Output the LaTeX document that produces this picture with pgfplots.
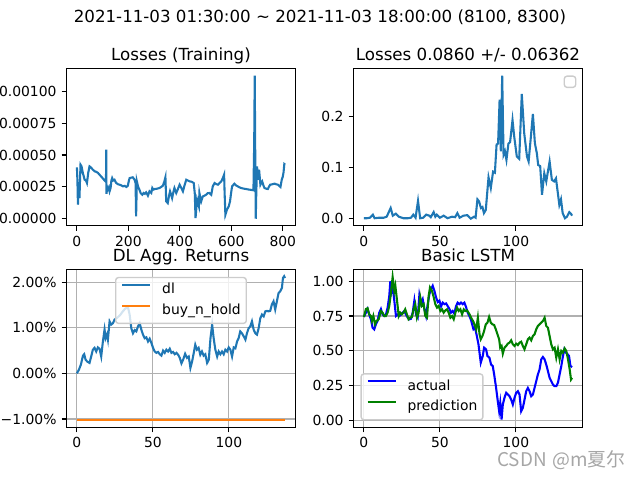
\documentclass[border=0pt]{standalone}
\usepackage{fontspec}
\setmainfont{DejaVu Sans}
\newfontfamily\cjk{Noto Sans CJK SC}
\usepackage{pgfplots}
\pgfplotsset{compat=1.18}
\definecolor{tabblue}{HTML}{1F77B4}
\definecolor{taborange}{HTML}{FF7F0E}
\definecolor{mplgreen}{HTML}{008000}
\definecolor{mplblue}{HTML}{0000FF}
\definecolor{gridgray}{HTML}{B0B0B0}
\definecolor{leggray}{HTML}{CCCCCC}
\definecolor{wm}{HTML}{A6A6A6}
\pgfplotsset{
  mpl/.style={
    scale only axis, width=164.88bp, height=113.4bp,
    axis line style={black, line width=0.8bp},
    tick align=outside, tick pos=left,
    major tick length=3.5bp,
    every tick/.style={black, line width=0.8bp},
    tick label style={font=\fontsize{10bp}{12bp}\selectfont},
    xticklabel style={inner sep=0pt, anchor=north, yshift=-3.5bp},
    yticklabel style={inner sep=0pt, anchor=east, xshift=-3.5bp},
    title style={font=\fontsize{12bp}{14bp}\selectfont, at={(0.5,1)}, anchor=base, inner sep=0pt},
    every axis plot/.append style={line width=1.5bp},
    legend image code/.code={\draw[#1, line width=1.5bp, draw opacity=1, opacity=1] (0bp,3.6bp) -- (20bp,3.6bp);},
    legend cell align=left,
    legend style={draw=leggray, line width=1bp, rounded corners=2bp, fill=white,
      fill opacity=0.8, text opacity=1,
      inner xsep=4bp, inner ysep=4bp, row sep=5bp, column sep=8bp,
      font=\fontsize{10bp}{12bp}\selectfont,
      nodes={inner sep=0pt, text height=7.6bp, text depth=2.4bp}},
  },
  mplgrid/.style={grid=major, grid style={gridgray, line width=0.8bp}},
}
\begin{document}
\begin{tikzpicture}
\useasboundingbox (0,0) rectangle (460.8bp,345.6bp);
\node[anchor=base, inner sep=0pt] at (230.4bp,329.4bp) {\fontsize{12bp}{14bp}\selectfont 2021-11-03 01:30:00 \textasciitilde{} 2021-11-03 18:00:00 (8100, 8300)};

% Top left
\begin{axis}[mpl, at={(47.88bp,182.95bp)}, anchor=south west,
  title={Losses (Training)},
  xmin=-40.45, xmax=849.45, ymin=-0.0562, ymax=1.1792,
  xtick={0,200,400,600,800}, xticklabels={0,200,400,600,800},
  ytick={0,0.25,0.5,0.75,1.0}, yticklabels={0.00000,0.00025,0.00050,0.00075,0.00100}]
\addplot[tabblue] coordinates {(0,0.403)(2,0.300)(4,0.110)(6.5,0.228)(8,0.190)(10,0.162)(12,0.300)(14,0.424)(18,0.411)(21,0.380)(23,0.359)(27,0.330)(30,0.306)(35,0.300)(39,0.280)(44,0.360)(49,0.411)(53,0.405)(56,0.398)(62,0.385)(69,0.372)(75,0.368)(82,0.359)(88,0.345)(94,0.332)(100,0.318)(105,0.306)(111,0.293)(113,0.300)(114,0.542)(115,0.196)(117,0.250)(120,0.228)(124,0.245)(127,0.215)(131,0.241)(134,0.300)(137,0.319)(141,0.300)(146,0.306)(150,0.290)(153,0.280)(160,0.270)(166,0.267)(172,0.262)(179,0.254)(186,0.258)(192,0.249)(198,0.259)(202,0.300)(205,0.319)(211,0.322)(217,0.325)(224,0.306)(228,0.280)(230,0.018)(233,0.293)(238,0.250)(243,0.228)(248,0.200)(254,0.188)(259,0.202)(264,0.195)(269,0.207)(276,0.181)(282,0.215)(289,0.202)(293,0.241)(297,0.228)(302,0.233)(310,0.235)(321,0.241)(328,0.250)(334,0.259)(340,0.293)(344,0.325)(347,0.136)(353,0.123)(358,0.180)(362,0.215)(366,0.190)(370,0.162)(375,0.210)(379,0.241)(386,0.202)(392,0.230)(399,0.267)(406,0.240)(412,0.215)(418,0.260)(425,0.306)(431,0.300)(438,0.293)(446,0.290)(454,0.280)(458,0.200)(461,0.005)(464,0.080)(467,0.149)(474,0.097)(476,0.202)(480,0.160)(483,0.136)(489,0.175)(495,0.180)(502,0.188)(508,0.200)(515,0.202)(522,0.188)(528,0.254)(535,0.280)(541,0.272)(548,0.267)(554,0.280)(561,0.293)(567,0.319)(572,0.346)(574,0.200)(577,0.031)(580,0.050)(583,0.071)(590,0.097)(595,0.136)(599,0.200)(603,0.254)(612,0.275)(618,0.262)(625,0.254)(631,0.247)(638,0.241)(648,0.236)(658,0.233)(664,0.230)(671,0.228)(678,0.226)(686,0.223)(689,0.600)(691,1.123)(693,0.500)(695,0.0)(697,0.200)(700,0.411)(704,0.306)(708,0.385)(713,0.267)(716,0.280)(720,0.293)(725,0.260)(729,0.241)(735,0.236)(742,0.233)(746,0.250)(751,0.267)(759,0.270)(768,0.275)(775,0.270)(781,0.267)(786,0.258)(791,0.249)(796,0.306)(800,0.330)(803,0.364)(806,0.429)(809,0.424)};
\end{axis}

% Top right
\begin{axis}[mpl, at={(254.52bp,182.95bp)}, anchor=south west,
  title={Losses 0.0860 +/- 0.06362},
  xmin=-6.85, xmax=143.85, ymin=-0.014, ymax=0.294,
  xtick={0,50,100}, xticklabels={0,50,100},
  ytick={0,0.1,0.2}, yticklabels={0.0,0.1,0.2}]
\addplot[tabblue] coordinates {(0,0.001)(2,0.001)(4,0.002)(5.9,0.008)(7,0.001)(10,0.002)(13,0.002)(15,0.004)(17.6,0.021)(19,0.006)(21,0.010)(23,0.004)(26,0.001)(29,0.001)(31,0.002)(32.5,0.008)(34,0.002)(35.6,0.035)(37,0.001)(39,0.002)(41,0.008)(43,0.006)(44,0.003)(45.9,0.013)(47,0.004)(48,0.008)(50,0.002)(52.5,0.006)(55,0.001)(58,0.004)(60,0.003)(61.5,0.011)(63,0.002)(65.5,0.006)(68,0.007)(70.3,0.000)(72.5,0.004)(73.5,0.002)(74.7,0.038)(75.8,0.034)(77,0.021)(78,0.023)(79,0.011)(80.2,0.017)(82,0.081)(83.5,0.060)(85,0.092)(86.2,0.090)(87.3,0.145)(88.3,0.147)(89.3,0.233)(90.1,0.132)(91,0.280)(91.9,0.125)(92.8,0.132)(93.8,0.115)(95.1,0.147)(96.2,0.150)(97.8,0.193)(98.9,0.161)(100.6,0.122)(102.2,0.117)(103.9,0.244)(105.5,0.167)(107.3,0.122)(108.4,0.112)(109.5,0.148)(111.2,0.205)(112.5,0.148)(113.8,0.128)(114.7,0.105)(116,0.103)(117.2,0.047)(118.7,0.089)(120,0.073)(121.3,0.096)(122.2,0.112)(123.7,0.076)(125.2,0.073)(126.4,0.079)(127.5,0.053)(128.6,0.027)(129.7,0.038)(130.8,0.011)(132.3,0.001)(133.6,0.004)(135.2,0.013)(136.2,0.010)(137,0.006)};
\draw[leggray, line width=1bp, rounded corners=2bp, fill=white] (rel axis cs:0.9205,0.951) rectangle (rel axis cs:0.9703,0.8794);
\end{axis}

% Bottom left
\begin{axis}[mpl, mplgrid, at={(47.88bp,37.87bp)}, anchor=south west,
  title={DL Agg. Returns},
  xmin=-6.85, xmax=143.85, ymin=-1.183, ymax=2.268,
  xtick={0,50,100}, xticklabels={0,50,100},
  ytick={-1,0,1,2}, yticklabels={−1.00\%,0.00\%,1.00\%,2.00\%},
  legend style={at={(0.5,1)}, anchor=north, yshift=-5bp}]
\addplot[tabblue] coordinates {(0,0)(1.3,0.08)(2.6,0.19)(4,0.39)(4.8,0.42)(5.7,0.30)(6.8,0.26)(8.3,0.23)(9.4,0.37)(10.5,0.52)(11.6,0.56)(12.7,0.48)(13.8,0.57)(14.9,0.54)(16,0.37)(17.1,0.70)(18.2,0.96)(18.9,0.77)(19.8,0.85)(20.4,0.74)(21.5,1.14)(22.6,1.07)(23.7,1.10)(24.8,1.18)(26.5,1.22)(28.5,1.28)(30,1.35)(31.8,1.42)(33.6,1.45)(34.7,1.29)(35.8,0.99)(36.9,0.88)(38,0.95)(39.1,0.92)(40.2,1.03)(41.3,1.10)(42.4,0.96)(43.5,0.85)(44.6,0.77)(45.7,0.79)(46.8,0.70)(47.9,0.76)(49,0.67)(50.1,0.56)(51.2,0.48)(52.3,0.45)(53.4,0.47)(54.5,0.42)(55.6,0.39)(56.7,0.50)(57.8,0.45)(58.9,0.52)(60,0.48)(61.1,0.54)(62.2,0.45)(63.3,0.47)(64.4,0.42)(65.5,0.45)(66.6,0.41)(67.7,0.34)(68.8,0.22)(69.9,0.30)(71.2,0.43)(72.5,0.34)(73.6,0.37)(74.7,0.12)(75.8,0.26)(76.9,0.45)(77.9,0.63)(79,0.52)(80.1,0.56)(81.2,0.41)(82.3,0.48)(83.4,0.39)(84.5,0.42)(85.7,0.23)(86.8,0.30)(87.9,0.77)(89,1.07)(90,0.77)(91.1,0.52)(92.3,0.37)(93.3,0.48)(94.4,0.42)(95.5,0.48)(96.6,0.42)(97.7,0.52)(98.8,0.48)(99.9,0.57)(101,0.52)(102.1,0.37)(103.2,0.57)(104.3,0.55)(105.4,0.70)(106.4,0.77)(107.5,0.92)(108.6,0.88)(109.8,0.81)(110.9,0.74)(111.9,0.88)(113,0.99)(114.1,1.03)(115.2,1.14)(116.3,0.96)(117.4,0.88)(118.5,0.85)(119.6,0.99)(120.7,1.21)(121.8,1.29)(122.9,1.25)(124,1.36)(125.1,1.37)(126.1,1.36)(127.2,1.37)(128.3,1.51)(129.4,1.58)(130.5,1.40)(131.6,1.58)(132.7,1.76)(133.8,1.80)(134.9,1.87)(135.6,2.09)(136.4,2.13)(137,2.09)};
\addlegendentry{dl}
\addplot[taborange] coordinates {(0,-1.024)(137,-1.024)};
\addlegendentry{buy\_n\_hold}
\end{axis}

% Bottom right
\begin{axis}[mpl, mplgrid, at={(254.52bp,37.87bp)}, anchor=south west,
  title={Basic LSTM},
  xmin=-6.85, xmax=143.85, ymin=-0.0515, ymax=1.0815,
  xtick={0,50,100}, xticklabels={0,50,100},
  ytick={0,0.25,0.5,0.75,1.0}, yticklabels={0.00,0.25,0.50,0.75,1.00},
  legend style={at={(0,0)}, anchor=south west, xshift=5bp, yshift=5bp}]
\addplot[mplblue] coordinates {(0,0.743)(1.3,0.774)(2.4,0.80)(3.5,0.76)(4.6,0.726)(5.7,0.666)(6.8,0.654)(7.9,0.69)(9,0.714)(10.1,0.774)(11.2,0.80)(12.3,0.76)(13.4,0.75)(14.5,0.76)(15.6,0.81)(16.7,0.895)(17.4,1.0)(18.2,0.93)(18.9,0.967)(20,0.86)(21.1,0.75)(22.2,0.76)(23.3,0.75)(24.4,0.76)(25.5,0.774)(26.6,0.786)(27.7,0.76)(28.8,0.738)(29.9,0.726)(31,0.73)(32.1,0.774)(33.2,0.86)(34.3,0.76)(35.4,0.74)(36.5,0.90)(37.6,0.84)(38.7,0.87)(39.8,0.80)(40.9,0.75)(42,0.835)(43.1,0.907)(44.2,0.943)(45.3,0.967)(46.4,0.93)(47.5,0.883)(48.6,0.85)(49.7,0.86)(50.8,0.82)(51.9,0.846)(53,0.835)(54.1,0.84)(55.2,0.82)(56.3,0.80)(57.3,0.774)(58.4,0.786)(59.5,0.767)(60.6,0.82)(61.7,0.846)(62.8,0.835)(63.9,0.846)(65,0.835)(66.1,0.846)(67.2,0.815)(68.3,0.774)(69.4,0.75)(70.5,0.72)(72.1,0.654)(73.2,0.665)(74.3,0.606)(75.4,0.546)(76.9,0.414)(78.2,0.462)(79.1,0.522)(80.4,0.51)(81.3,0.462)(82.6,0.45)(83.7,0.40)(84.8,0.39)(85.7,0.33)(87,0.233)(88.1,0.137)(89,0.065)(89.7,0.125)(90.6,0.005)(91.4,0.113)(92.5,0.161)(93.6,0.197)(94.7,0.185)(95.8,0.173)(96.9,0.149)(98,0.113)(99.1,0.161)(100.2,0.197)(101.3,0.209)(102.4,0.185)(103.5,0.065)(104.6,0.089)(105.7,0.149)(106.8,0.209)(107.9,0.233)(109,0.209)(110.1,0.173)(111.2,0.185)(112.3,0.233)(113.4,0.281)(114.5,0.33)(115.6,0.366)(116.7,0.438)(117.8,0.455)(118.9,0.438)(120,0.40)(121.1,0.354)(122.2,0.305)(123.3,0.281)(124.4,0.257)(125.5,0.245)(126.6,0.245)(127.7,0.27)(128.8,0.33)(129.9,0.39)(131,0.462)(131.9,0.51)(133,0.486)(134.1,0.474)(135,0.462)(135.9,0.39)(137,0.382)};
\addlegendentry{actual}
\addplot[mplgreen] coordinates {(0,0.743)(1.3,0.80)(2.4,0.806)(3.5,0.762)(4.6,0.75)(5.3,0.714)(6.2,0.75)(7.3,0.69)(8.3,0.714)(9.7,0.726)(11.2,0.786)(12.3,0.774)(13.4,0.75)(14.5,0.75)(15.6,0.774)(16.7,0.822)(17.8,0.918)(18.9,1.03)(20,0.93)(20.7,0.967)(21.8,0.86)(22.9,0.75)(23.9,0.774)(25,0.762)(26.1,0.774)(27.2,0.798)(28.3,0.762)(29.4,0.726)(30.5,0.738)(31.6,0.743)(32.7,0.798)(33.8,0.835)(34.9,0.738)(36,0.774)(37.1,0.883)(38.2,0.822)(39.3,0.835)(40.4,0.75)(41.5,0.738)(42.6,0.895)(43.5,0.955)(44.8,0.93)(45.9,0.887)(47,0.835)(48.1,0.81)(49.2,0.822)(50.3,0.786)(51.4,0.798)(52.5,0.774)(53.6,0.79)(54.7,0.798)(55.8,0.774)(56.9,0.738)(58,0.75)(59.1,0.726)(60.2,0.774)(61.3,0.81)(62.4,0.786)(63.5,0.798)(64.6,0.762)(65.7,0.798)(66.8,0.786)(67.9,0.79)(69.5,0.762)(70.5,0.738)(72,0.71)(73.9,0.654)(75,0.738)(76.1,0.618)(76.9,0.582)(78,0.606)(79.1,0.642)(80.2,0.69)(81.3,0.702)(82.4,0.743)(83.5,0.702)(84.6,0.69)(85.7,0.685)(86.8,0.654)(87.9,0.618)(89,0.582)(89.7,0.522)(90.6,0.534)(91.4,0.479)(92.5,0.522)(93.6,0.534)(94.7,0.551)(95.8,0.558)(96.9,0.575)(98,0.546)(99.1,0.534)(100.2,0.551)(101.3,0.541)(102.4,0.558)(103.5,0.565)(104.6,0.534)(105.7,0.51)(106.8,0.546)(107.9,0.582)(109,0.594)(110.1,0.575)(111.2,0.606)(112.3,0.618)(113.4,0.654)(114.5,0.678)(115.6,0.69)(116.7,0.702)(117.8,0.714)(118.9,0.738)(120,0.678)(121.1,0.666)(122.2,0.606)(123.3,0.546)(124.4,0.51)(125.5,0.522)(126.6,0.45)(127.7,0.51)(128.8,0.438)(129.9,0.498)(131,0.486)(132.1,0.517)(133.2,0.498)(134.3,0.438)(135.4,0.366)(136.3,0.293)(137,0.305)};
\addlegendentry{prediction}
\end{axis}

\node[anchor=base west, inner sep=0pt, text=wm] at (357.8bp,9.4bp) {\cjk\fontsize{13.6bp}{15bp}\selectfont CSDN\hspace{0.3em}@m夏尔};
\end{tikzpicture}
\end{document}
